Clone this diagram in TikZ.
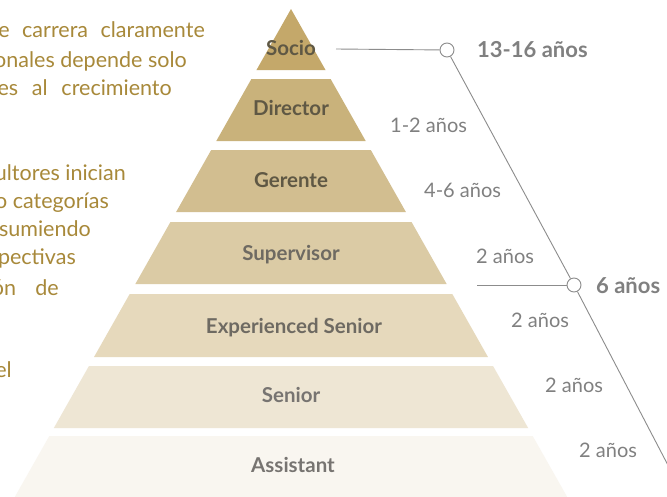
\documentclass[tikz,border=0pt]{standalone}
\usepackage{fontspec}
\setmainfont{Lato}
\definecolor{gold}{HTML}{A8893A}
\definecolor{lvlA}{HTML}{C4A86A}
\definecolor{lvlB}{HTML}{C9B27B}
\definecolor{lvlC}{HTML}{D2BE90}
\definecolor{lvlD}{HTML}{DBCBA5}
\definecolor{lvlE}{HTML}{E6D9BC}
\definecolor{lvlF}{HTML}{EEE6D4}
\definecolor{lvlG}{HTML}{F9F6F0}
\definecolor{lblA}{HTML}{5F5844}
\definecolor{lblB}{HTML}{6E6A62}
\definecolor{lblC}{HTML}{777471}
\definecolor{yrs}{HTML}{808080}
\definecolor{lin}{HTML}{8C8C8C}
\newcommand{\pband}[3]{%
  \fill[#3] ({291-0.566*(#1-9)},#1) -- ({291+0.566*(#1-9)},#1) -- ({291+0.566*(#2-9)},#2) -- ({291-0.566*(#2-9)},#2) -- cycle;}
\tikzset{
  lefttxt/.style={anchor=base east, inner sep=0pt, text=gold, font=\fontsize{21.5}{24}\selectfont},
  lvl/.style={anchor=base, inner sep=0pt, font=\fontsize{20.5}{24}\selectfont\bfseries},
  yr/.style={anchor=base west, inner sep=0pt, text=yrs, font=\fontsize{20}{24}\selectfont},
  bigyr/.style={anchor=base west, inner sep=0pt, text=yrs, font=\fontsize{22}{26}\selectfont\bfseries},
  ring/.style={circle, draw=lin, fill=white, line width=0.9pt, minimum size=14pt, inner sep=0pt},
  link/.style={draw=lin, line width=0.9pt}
}
\begin{document}
\begin{tikzpicture}[x=1pt,y=-1pt]
\useasboundingbox (0,0) rectangle (667,496);
\clip (0,0) rectangle (667,496);
\fill[white] (0,0) rectangle (667,496);
% pyramid
\fill[lvlA] (291,9) -- ({291+0.566*61},70) -- ({291-0.566*61},70) -- cycle;
\pband{79}{141}{lvlB}
\pband{150}{212}{lvlC}
\pband{222}{284}{lvlD}
\pband{294}{357}{lvlE}
\pband{366}{428}{lvlF}
\pband{436}{500}{lvlG}
% level labels
\node[lvl, text=lblA] (socio) at (291,55) {Socio};
\node[lvl, text=lblA] (director) at (291,115) {Director};
\node[lvl, text=lblA] (gerente) at (291,187) {Gerente};
\node[lvl, text=lblB] (supervisor) at (291,260) {Supervisor};
\node[lvl, text=lblB] (expsenior) at (294,333) {Experienced Senior};
\node[lvl, text=lblC] (senior) at (291,402) {Senior};
\node[lvl, text=lblC] (assistant) at (293,472) {Assistant};
% left text
\node[lefttxt] (t1) at (205,37) {e\hspace{0.58em}carrera\hspace{0.58em}claramente};
\node[lefttxt] (t2) at (187,67) {onales depende solo};
\node[lefttxt] (t3) at (172,95) {es\hspace{0.64em}al\hspace{0.64em}crecimiento};
\node[lefttxt] (t4) at (126,180) {ultores inician};
\node[lefttxt] (t5) at (109,208) {o categorías};
\node[lefttxt] (t6) at (91,236) {asumiendo};
\node[lefttxt] (t7) at (76,264) {pectivas};
\node[lefttxt] (t8) at (59,295) {ón\hspace{0.9em}de};
\node[lefttxt] (t9) at (12,377) {el};
% year labels
\node[yr] (y1) at (390,132) {1-2 años};
\node[yr] (y2) at (424,197) {4-6 años};
\node[yr] (y3) at (476,263) {2 años};
\node[yr] (y4) at (511,327) {2 años};
\node[yr] (y5) at (545,392) {2 años};
\node[yr] (y6) at (579,457) {2 años};
\node[bigyr] (b1) at (477,57) {13-16 años};
\node[bigyr] (b2) at (596,293) {6 años};
% connectors
\coordinate (s1) at (336,49);
\coordinate (s2) at (477,285);
\coordinate (cend) at (683,494);
\node[ring] (c1) at (447,50) {};
\node[ring] (c2) at (574,285) {};
\draw[link] (s1) -- (c1);
\draw[link] (s2) -- (c2);
\draw[link] (c1) -- (c2);
\draw[link] (c2) -- (cend);
\end{tikzpicture}
\end{document}
